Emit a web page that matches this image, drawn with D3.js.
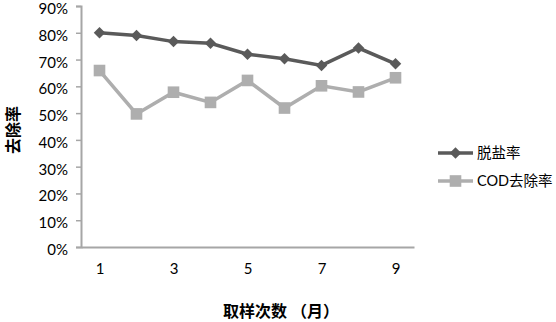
<!DOCTYPE html>
<html>
<head>
<meta charset="utf-8">
<script src="https://cdn.jsdelivr.net/npm/d3@7"></script>
<style>
  body { margin: 0; background: #fff; }
  text { font-family: Lato, "Noto Sans CJK SC", sans-serif; }
</style>
</head>
<body>
<div id="chart"></div>
<script>
const months = [1, 2, 3, 4, 5, 6, 7, 8, 9];
const desalt = [0.80, 0.79, 0.767, 0.761, 0.72, 0.703, 0.678, 0.743, 0.684];
const codRemoval = [0.659, 0.497, 0.578, 0.54, 0.622, 0.519, 0.602, 0.579, 0.632];
const yTicks = [0, 0.1, 0.2, 0.3, 0.4, 0.5, 0.6, 0.7, 0.8, 0.9];
const xTickLabels = [1, 3, 5, 7, 9];
const seriesNames = ["脱盐率", "COD去除率"];

const dimension = {
    width: 556,
    height: 322,
    margin: { top: 6, left: 81, bottom: 75, right: 142 }
};
dimension.boundedWidth = dimension.width - dimension.margin.left - dimension.margin.right
dimension.boundedHeight = dimension.height - dimension.margin.top - dimension.margin.bottom

const wrapper = d3.select("#chart")
    .append("svg")
    .attr("width", dimension.width)
    .attr("height", dimension.height);

const bounds = wrapper.append("g")
    .attr("transform", `translate(${dimension.margin.left},${dimension.margin.top})`);

const xScaler = d3.scalePoint()
    .domain(months)
    .range([0, dimension.boundedWidth])
    .padding(0.5);

const yScaler = d3.scaleLinear()
    .domain([0, 0.9])
    .range([dimension.boundedHeight, 0]);

// y axis
const yAxis = bounds.append("g")
    .call(d3.axisLeft(yScaler).tickValues(yTicks).tickFormat(d3.format(".0%")).tickSize(5).tickPadding(8));
yAxis.select(".domain").attr("stroke", "#a6a6a6").attr("stroke-width", 2);
yAxis.selectAll(".tick line").attr("stroke", "#a6a6a6").attr("stroke-width", 1.5);
yAxis.selectAll(".tick text").attr("font-size", "15px").attr("fill", "#000")
    .attr("font-family", "Lato, sans-serif").attr("dy", "0.5em");

// x axis
const xAxis = bounds.append("g")
    .attr("transform", `translate(0,${dimension.boundedHeight})`)
    .call(d3.axisBottom(xScaler).tickValues(xTickLabels).tickSize(0).tickPadding(16));
xAxis.select(".domain").attr("stroke", "#a6a6a6").attr("stroke-width", 2);
xAxis.selectAll(".tick text").attr("font-size", "15px").attr("fill", "#000")
    .attr("font-family", "Lato, sans-serif");

// diamond = square turned 45 degrees
const series = [
    { name: seriesNames[0], values: desalt, color: "#5a5a5a", marker: d3.symbolSquare, size: 66, rot: 45 },
    { name: seriesNames[1], values: codRemoval, color: "#aeaeae", marker: d3.symbolSquare, size: 135, rot: 0 }
];

const line = d3.line()
    .x((d, i) => xScaler(months[i]))
    .y(d => yScaler(d));

series.slice().reverse().forEach(s => {
    bounds.append("path")
        .attr("d", line(s.values))
        .attr("fill", "none")
        .attr("stroke", s.color)
        .attr("stroke-width", 3.5);
    bounds.append("g")
        .selectAll("path")
        .data(s.values)
        .enter()
        .append("path")
        .attr("d", d3.symbol().type(s.marker).size(s.size))
        .attr("transform", (d, i) => `translate(${xScaler(months[i])},${yScaler(d)})rotate(${s.rot})`)
        .attr("fill", s.color);
});

// legend
const legend = wrapper.append("g");
series.forEach((s, i) => {
    const y = 153 + i * 28;
    legend.append("line")
        .attr("x1", 438).attr("x2", 473)
        .attr("y1", y).attr("y2", y)
        .attr("stroke", s.color).attr("stroke-width", 3.5);
    legend.append("path")
        .attr("d", d3.symbol().type(s.marker).size(s.size))
        .attr("transform", `translate(455.5,${y})rotate(${s.rot})`)
        .attr("fill", s.color);
    legend.append("text")
        .attr("x", 477)
        .attr("y", y + 5)
        .text(s.name)
        .attr("font-size", "14.5px")
        .attr("fill", "#000");
});

// axis titles
wrapper.append("text")
    .attr("transform", "translate(19,130)rotate(-90)")
    .attr("text-anchor", "middle")
    .text("去除率")
    .attr("font-size", "16px")
    .attr("font-weight", "bold")
    .attr("font-family", "'Noto Sans CJK SC', sans-serif");

wrapper.append("text")
    .attr("x", 281)
    .attr("y", 317)
    .attr("text-anchor", "middle")
    .text("取样次数 （月）")
    .attr("font-size", "16px")
    .attr("font-weight", "bold")
    .attr("font-family", "'Noto Sans CJK SC', sans-serif");
</script>
</body>
</html>
